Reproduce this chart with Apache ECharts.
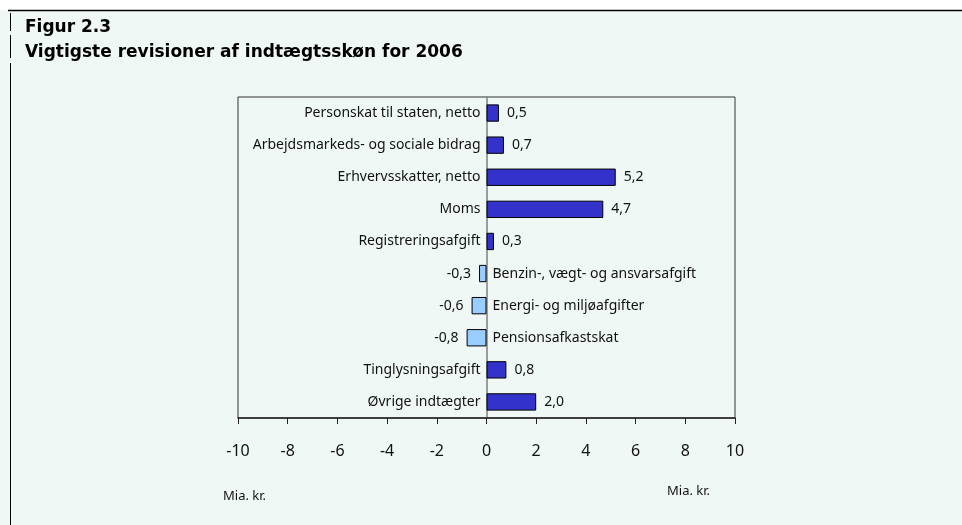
<!DOCTYPE html>
<html>
<head>
<meta charset="utf-8">
<script src="https://cdn.jsdelivr.net/npm/echarts@6/dist/echarts.min.js"></script>
<style>
  html, body { margin: 0; padding: 0; background: #f0f8f5; }
  #main { width: 962px; height: 525px; }
</style>
</head>
<body>
<div id="main"></div>
<script>
var categories = [
  "Personskat til staten, netto",
  "Arbejdsmarkeds- og sociale bidrag",
  "Erhvervsskatter, netto",
  "Moms",
  "Registreringsafgift",
  "Benzin-, vægt- og ansvarsafgift",
  "Energi- og miljøafgifter",
  "Pensionsafkastskat",
  "Tinglysningsafgift",
  "Øvrige indtægter"
];
var values = [0.5, 0.7, 5.2, 4.7, 0.3, -0.3, -0.6, -0.8, 0.8, 2.0];
var xTicks = [-10, -8, -6, -4, -2, 0, 2, 4, 6, 8, 10];

var FONT = "Noto Sans";
var darkBlue = "#3333cc";
var lightBlue = "#99ccff";

var chartDom = document.getElementById("main");
var myChart = echarts.init(chartDom);

// value bars, label on the outer side
var barData = values.map(function (v) {
  return {
    value: v,
    itemStyle: { color: v < 0 ? lightBlue : darkBlue },
    label: { position: v < 0 ? "left" : "right" }
  };
});

// zero-width helper bars that carry the category names
var nameData = values.map(function (v, i) {
  return {
    value: 0,
    label: { position: v < 0 ? "right" : "left", formatter: categories[i] }
  };
});

var option = {
  backgroundColor: "#f0f8f5",
  animation: false,
  grid: {
    left: 238, right: 227, top: 97, bottom: 107,
    show: true, borderColor: "#333", borderWidth: 1, backgroundColor: "transparent"
  },
  xAxis: {
    type: "value",
    min: -10, max: 10, interval: 2,
    axisLine: { show: true, onZero: false, lineStyle: { color: "#222", width: 1.5 } },
    axisTick: { show: true, length: 6, inside: false, lineStyle: { color: "#222" } },
    axisLabel: {
      margin: 25, fontFamily: FONT, fontSize: 16, color: "#111",
      formatter: function (v) { return xTicks.indexOf(v) >= 0 ? String(v) : ""; }
    },
    splitLine: { show: false }
  },
  yAxis: {
    type: "category",
    data: categories,
    inverse: true,
    axisLine: { show: true, onZero: true, lineStyle: { color: "#808080", width: 1.5 } },
    axisTick: { show: false },
    axisLabel: { show: false }
  },
  series: [
    {
      type: "bar",
      data: barData,
      barWidth: "54%",
      itemStyle: { borderColor: "#000", borderWidth: 1 },
      label: {
        show: true, distance: 8, fontFamily: FONT, fontSize: 14, color: "#111",
        formatter: function (p) { return p.value.toFixed(1).replace(".", ","); }
      },
      z: 3
    },
    {
      type: "bar",
      data: nameData,
      barGap: "-100%",
      barWidth: "54%",
      itemStyle: { color: "transparent" },
      label: { show: true, distance: 6, fontFamily: FONT, fontSize: 14, color: "#111" },
      z: 2
    }
  ],
  graphic: [
    { type: "rect", shape: { x: 0, y: 0, width: 962, height: 10 }, style: { fill: "#fff" } },
    { type: "line", shape: { x1: 8, y1: 10.5, x2: 962, y2: 10.5 }, style: { stroke: "#000", lineWidth: 1.5 } },
    { type: "line", shape: { x1: 10.5, y1: 13, x2: 10.5, y2: 31 }, style: { stroke: "#000", lineWidth: 1 } },
    { type: "line", shape: { x1: 10.5, y1: 35, x2: 10.5, y2: 58 }, style: { stroke: "#000", lineWidth: 1 } },
    { type: "line", shape: { x1: 10.5, y1: 63, x2: 10.5, y2: 525 }, style: { stroke: "#000", lineWidth: 1 } },
    { type: "text", left: 25, top: 19, style: { text: "Figur 2.3", font: "bold 17px 'DejaVu Sans'", fill: "#000" } },
    { type: "text", left: 25, top: 44, style: { text: "Vigtigste revisioner af indtægtsskøn for 2006", font: "bold 17px 'DejaVu Sans'", fill: "#000" } },
    { type: "text", left: 223, top: 490, style: { text: "Mia. kr.", font: "13px 'Noto Sans'", fill: "#111" } },
    { type: "text", left: 667, top: 485, style: { text: "Mia. kr.", font: "13px 'Noto Sans'", fill: "#111" } }
  ]
};

myChart.setOption(option);
window.addEventListener("resize", function () { myChart.resize(); });
</script>
</body>
</html>
